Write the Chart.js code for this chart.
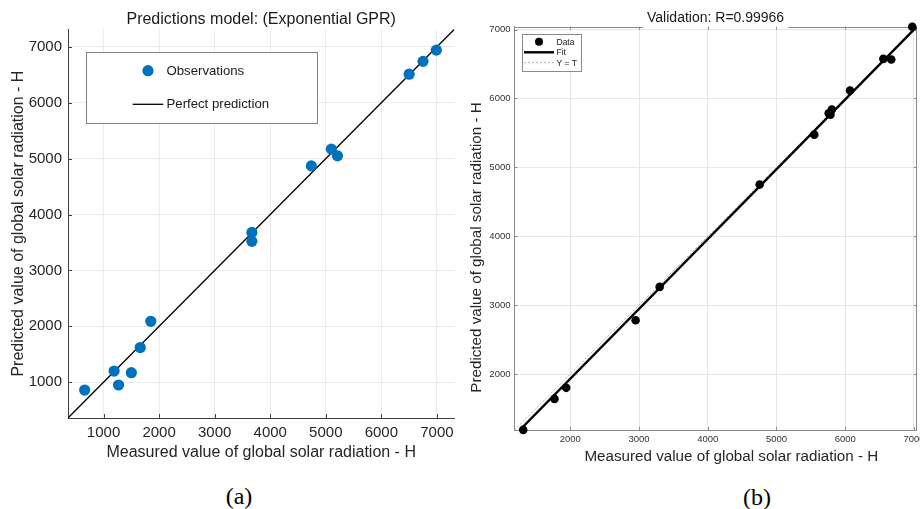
<!DOCTYPE html>
<html><head><meta charset="utf-8">
<script src="https://cdn.jsdelivr.net/npm/chart.js@4/dist/chart.umd.min.js"></script>
<style>
html,body{margin:0;padding:0;background:#fff;width:920px;height:509px;overflow:hidden;position:relative}
#wa{position:absolute;left:0;top:0;width:460px;height:475px}
#wb{position:absolute;left:460px;top:0;width:470px;height:475px}
.lab{position:absolute;font-family:"Liberation Serif","Times New Roman",serif;font-size:24px;color:#000;transform:translate(-50%,-50%);white-space:nowrap;line-height:1}
</style></head><body>
<div id="wa"><canvas id="ca" width="460" height="475"></canvas></div>
<div id="wb"><canvas id="cb" width="470" height="475"></canvas></div>
<div class="lab" style="left:239px;top:496px">(a)</div>
<div class="lab" style="left:757px;top:497px">(b)</div>
<script>
// ---- Chart (a): Exponential GPR predictions ----
const obsMeasured  = [660, 1190, 1270, 1500, 1660, 1850, 3670, 3670, 4740, 5100, 5210, 6500, 6750, 6990];
const obsPredicted = [860, 1200,  950, 1170, 1620, 2090, 3680, 3520, 4870, 5170, 5050, 6510, 6740, 6940];
const perfectLine  = [360, 7315];
const ticksA       = [1000, 2000, 3000, 4000, 5000, 6000, 7000];

// ---- Chart (b): Validation regression ----
const valTarget = [1315, 1770, 1940, 2950, 3300, 4755, 5550, 5760, 5785, 5805, 6070, 6555, 6670, 6975];
const valOutput = [1190, 1640, 1800, 2780, 3265, 4750, 5475, 5785, 5765, 5840, 6115, 6575, 6565, 7040];
const fitTarget = [1265, 7040];
const fitOutput = [1188, 7040];
const identityLine = [1188, 7040];
const ticksB    = [2000, 3000, 4000, 5000, 6000, 7000];

const F = '"Liberation Sans", Arial, Helvetica, sans-serif';
const plain = v => String(v);

const frame = {
  id: 'frame',
  beforeDatasetsDraw(chart, args, o) {
    const {ctx, chartArea: {left, right, top, bottom}, scales: {x, y}} = chart;
    ctx.save();
    ctx.strokeStyle = o.color; ctx.lineWidth = 1;
    const L = o.tickLen;
    ctx.beginPath();
    x.ticks.forEach(t => {
      const px = Math.round(x.getPixelForValue(t.value)) + 0.5;
      ctx.moveTo(px, bottom); ctx.lineTo(px, bottom - L);
      if (o.box) { ctx.moveTo(px, top); ctx.lineTo(px, top + L); }
    });
    y.ticks.forEach(t => {
      const py = Math.round(y.getPixelForValue(t.value)) + 0.5;
      ctx.moveTo(left, py); ctx.lineTo(left + L, py);
      if (o.box) { ctx.moveTo(right, py); ctx.lineTo(right - L, py); }
    });
    if (o.box) {
      const tOpt = chart.options.plugins.title;
      ctx.font = tOpt.font.size + 'px ' + F;
      const w = ctx.measureText(tOpt.text).width;
      const cx = (left + right) / 2;
      const t0 = Math.round(top) + 0.5;
      ctx.moveTo(left, t0); ctx.lineTo(cx - w / 2 - 4, t0);
      ctx.moveTo(cx + w / 2 + 4, t0); ctx.lineTo(right, t0);
      const r0 = Math.round(right) - 0.5;
      ctx.moveTo(r0, top); ctx.lineTo(r0, bottom);
    }
    ctx.stroke();
    ctx.restore();
  }
};

const boxLegend = {
  id: 'boxLegend',
  afterDraw(chart, args, o) {
    const ctx = chart.ctx;
    ctx.save();
    ctx.fillStyle = '#fff'; ctx.fillRect(o.x, o.y, o.w, o.h);
    ctx.strokeStyle = o.border; ctx.lineWidth = 1;
    ctx.strokeRect(Math.round(o.x) + 0.5, Math.round(o.y) + 0.5, Math.round(o.w), Math.round(o.h));
    ctx.font = o.fontSize + 'px ' + F; ctx.textBaseline = 'middle'; ctx.textAlign = 'left';
    o.items.forEach(it => {
      const ds = chart.data.datasets[it.dataset];
      if (it.kind === 'point') {
        ctx.beginPath(); ctx.arc(it.mx, it.y, it.r, 0, Math.PI * 2);
        ctx.fillStyle = ds.backgroundColor; ctx.fill();
      } else {
        ctx.beginPath(); ctx.setLineDash(ds.borderDash || []);
        ctx.strokeStyle = ds.borderColor; ctx.lineWidth = ds.borderWidth;
        ctx.moveTo(it.x1, it.y); ctx.lineTo(it.x2, it.y); ctx.stroke(); ctx.setLineDash([]);
      }
      ctx.fillStyle = o.textColor;
      ctx.fillText(ds.label, it.tx, it.y + 0.5);
    });
    ctx.restore();
  }
};

const axisTitles = {
  id: 'axisTitles',
  afterDraw(chart, args, o) {
    const ctx = chart.ctx;
    ctx.save();
    ctx.fillStyle = o.color; ctx.font = o.fontSize + 'px ' + F;
    ctx.textAlign = 'center'; ctx.textBaseline = 'middle';
    ctx.fillText(o.xText, o.xPos[0], o.xPos[1]);
    ctx.translate(o.yPos[0], o.yPos[1]); ctx.rotate(-Math.PI / 2);
    ctx.fillText(o.yText, 0, 0);
    ctx.restore();
  }
};

new Chart(document.getElementById('ca'), {
  type: 'scatter',
  data: { datasets: [
    { label: 'Observations', data: obsMeasured.map((v, i) => ({x: v, y: obsPredicted[i]})),
      backgroundColor: '#0072BD', borderColor: '#0072BD', borderWidth: 0, pointRadius: 5.6, pointHoverRadius: 5.6, order: 0, clip: false },
    { label: 'Perfect prediction', data: perfectLine.map(v => ({x: v, y: v})), showLine: true,
      borderColor: '#000', backgroundColor: '#000', borderWidth: 1.3, pointRadius: 0, order: 1 }
  ]},
  options: {
    responsive: false, animation: false, events: [],
    layout: { padding: { left: 0, right: 4, top: 0, bottom: 0 } },
    plugins: {
      legend: { display: false }, tooltip: { enabled: false },
      title: { display: true, text: 'Predictions model: (Exponential GPR)', fullSize: false, color: '#1a1a1a',
        font: { family: F, size: 16, weight: 'normal' }, padding: { top: 10, bottom: 0 } },
      frame: { color: '#404040', box: false, tickLen: 4 },
      boxLegend: { x: 86, y: 52, w: 231, h: 71, border: '#808080', fontSize: 13.2, textColor: '#1a1a1a',
        items: [ { dataset: 0, kind: 'point', mx: 148, y: 70.7, r: 5.6, tx: 166.5 },
                 { dataset: 1, kind: 'line', x1: 132.7, x2: 163.3, y: 104.3, tx: 166.5 } ] }
    },
    scales: {
      x: { type: 'linear', min: perfectLine[0], max: perfectLine[1],
        afterBuildTicks: a => { a.ticks = ticksA.map(v => ({value: v})); },
        afterFit: a => { a.height = 57; },
        grid: { color: '#ebebeb', drawTicks: false }, border: { display: true, color: '#404040', width: 1 },
        ticks: { color: '#262626', font: { family: F, size: 15 }, padding: 6, maxRotation: 0, autoSkip: false, callback: plain },
        title: { display: true, text: 'Measured value of global solar radiation - H', color: '#262626',
          font: { family: F, size: 16 }, padding: { top: 0, bottom: 12.4 } } },
      y: { type: 'linear', min: perfectLine[0], max: perfectLine[1],
        afterBuildTicks: a => { a.ticks = ticksA.map(v => ({value: v})); },
        afterFit: a => { a.width = 68; },
        grid: { color: '#ebebeb', drawTicks: false }, border: { display: true, color: '#404040', width: 1 },
        ticks: { color: '#262626', font: { family: F, size: 15 }, padding: 6, autoSkip: false, callback: plain },
        title: { display: true, text: 'Predicted value of global solar radiation - H', color: '#262626',
          font: { family: F, size: 16 }, padding: { top: 8.7, bottom: 0 } } }
    }
  },
  plugins: [frame, boxLegend]
});

new Chart(document.getElementById('cb'), {
  type: 'scatter',
  data: { datasets: [
    { label: 'Data', data: valTarget.map((v, i) => ({x: v, y: valOutput[i]})),
      backgroundColor: '#000', borderColor: '#000', borderWidth: 0, pointRadius: 4.3, pointHoverRadius: 4.3, order: 0, clip: false },
    { label: 'Fit', data: fitTarget.map((v, i) => ({x: v, y: fitOutput[i]})), showLine: true,
      borderColor: '#000', backgroundColor: '#000', borderWidth: 2.4, pointRadius: 0, order: 1 },
    { label: 'Y = T', data: identityLine.map(v => ({x: v, y: v})), showLine: true,
      borderColor: '#9a9a9a', backgroundColor: '#9a9a9a', borderWidth: 0.8, borderDash: [2, 2], pointRadius: 0, order: 2 }
  ]},
  options: {
    responsive: false, animation: false, events: [],
    layout: { padding: { left: 0, right: 13.3, top: 0, bottom: 0 } },
    plugins: {
      legend: { display: false }, tooltip: { enabled: false },
      title: { display: true, text: 'Validation: R=0.99966', fullSize: false, color: '#1a1a1a',
        font: { family: F, size: 14, weight: 'normal' }, padding: { top: 10, bottom: 0 } },
      frame: { color: '#8a8a8a', box: true, tickLen: 3 },
      boxLegend: { x: 61.7, y: 34.3, w: 59.3, h: 36.7, border: '#8a8a8a', fontSize: 8.5, textColor: '#1a1a1a',
        items: [ { dataset: 0, kind: 'point', mx: 79, y: 41.7, r: 4, tx: 96.5 },
                 { dataset: 1, kind: 'line', x1: 64, x2: 94, y: 52.3, tx: 96.5 },
                 { dataset: 2, kind: 'line', x1: 64, x2: 94, y: 62.7, tx: 96.5 } ] },
      axisTitles: { color: '#262626', fontSize: 15.2,
        xText: 'Measured value of global solar radiation - H', xPos: [271.3, 457.3],
        yText: 'Predicted value of global solar radiation - H', yPos: [16.7, 247.5] }
    },
    scales: {
      x: { type: 'linear', min: identityLine[0], max: identityLine[1],
        afterBuildTicks: a => { a.ticks = ticksB.map(v => ({value: v})); },
        afterFit: a => { a.height = 45; },
        grid: { color: '#e6e6e6', drawTicks: false }, border: { display: true, color: '#8a8a8a', width: 1 },
        ticks: { color: '#333', font: { family: F, size: 9.5 }, padding: 4, maxRotation: 0, autoSkip: false, callback: plain },
        title: { display: false } },
      y: { type: 'linear', min: identityLine[0], max: identityLine[1],
        afterBuildTicks: a => { a.ticks = ticksB.map(v => ({value: v})); },
        afterFit: a => { a.width = 54.5; },
        grid: { color: '#e6e6e6', drawTicks: false }, border: { display: true, color: '#8a8a8a', width: 1 },
        ticks: { color: '#333', font: { family: F, size: 9.5 }, padding: 4, autoSkip: false, callback: plain },
        title: { display: false } }
    }
  },
  plugins: [frame, boxLegend, axisTitles]
});
</script>
</body></html>
